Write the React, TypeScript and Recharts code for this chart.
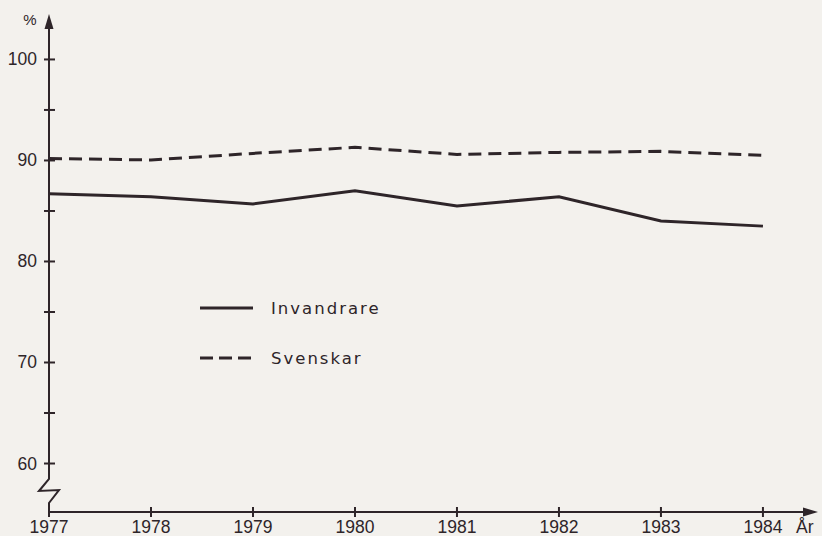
import { LineChart, Line, XAxis, YAxis, Legend, Label } from "recharts";

// years on the x axis
const years = [1977, 1978, 1979, 1980, 1981, 1982, 1983, 1984];
// share in %
const invandrare = [86.7, 86.4, 85.7, 87.0, 85.5, 86.4, 84.0, 83.5];
const svenskar = [90.2, 90.05, 90.7, 91.3, 90.6, 90.8, 90.9, 90.5];

const yTicks = [60, 65, 70, 75, 80, 85, 90, 95, 100];

const seriesNames = ["Invandrare", "Svenskar"];
const xUnit = "År";
const yUnit = "%";

const data = years.map((year, i) => ({
  year,
  invandrare: invandrare[i],
  svenskar: svenskar[i],
}));

const INK = "#2e2529";
const PAPER = "#f3f1ed";
const SANS = "'Liberation Sans', Arial, sans-serif";

function YTick(props: any) {
  const { x, y, payload } = props;
  const major = payload.value % 10 === 0;
  return (
    <g>
      <line x1={x - 5} x2={x + 6} y1={y} y2={y} stroke={INK} strokeWidth={2} />
      {major && (
        <text
          x={x - 12}
          y={y + 6}
          textAnchor="end"
          fontFamily={SANS}
          fontSize={17.5}
          fill={INK}
        >
          {payload.value}
        </text>
      )}
    </g>
  );
}

function XTick(props: any) {
  const { x, y, payload } = props;
  return (
    <g>
      <line x1={x} x2={x} y1={y - 5} y2={y + 5} stroke={INK} strokeWidth={2} />
      <text
        x={x}
        y={y + 21}
        textAnchor="middle"
        fontFamily={SANS}
        fontSize={17.5}
        fill={INK}
      >
        {payload.value}
      </text>
    </g>
  );
}

function XAxisDecor(props: any) {
  const { x, y, width } = props.viewBox;
  const end = x + width + 1;
  return (
    <g>
      <line x1={x} x2={end - 8} y1={y} y2={y} stroke={INK} strokeWidth={2} />
      <polygon
        points={`${end},${y} ${end - 15},${y - 4.5} ${end - 15},${y + 4.5}`}
        fill={INK}
      />
      <text
        x={end - 22}
        y={y + 21}
        fontFamily={SANS}
        fontSize={17.5}
        fill={INK}
      >
        {xUnit}
      </text>
    </g>
  );
}

function YAxisDecor(props: any) {
  const { x: bx, y, width, height } = props.viewBox;
  const x = bx + width;
  const top = y - 1;
  const bottom = y + height;
  const b = bottom - 33;
  return (
    <g>
      <polyline
        points={`${x},${top + 8} ${x},${b} ${x - 10},${b + 12} ${x + 10},${b + 11} ${x},${b + 24} ${x},${bottom + 1}`}
        fill="none"
        stroke={INK}
        strokeWidth={2}
      />
      <polygon
        points={`${x},${top} ${x - 4.5},${top + 15} ${x + 4.5},${top + 15}`}
        fill={INK}
      />
      <text
        x={x - 19}
        y={top + 11}
        textAnchor="middle"
        fontFamily={SANS}
        fontSize={15}
        fill={INK}
      >
        {yUnit}
      </text>
    </g>
  );
}

function LegendBox(props: any) {
  const { payload } = props;
  return (
    <svg width={200} height={90}>
      {(payload || []).map((entry: any, i: number) => {
        const cy = 16 + i * 50;
        const dash = entry.payload?.strokeDasharray;
        return (
          <g key={entry.value}>
            <line
              x1={5}
              x2={58}
              y1={cy}
              y2={cy}
              stroke={INK}
              strokeWidth={3}
              strokeDasharray={dash ? "13 6" : undefined}
            />
            <text
              x={76}
              y={cy + 6}
              fontFamily="'DejaVu Sans', sans-serif"
              fontSize={16.5}
              letterSpacing={2}
              fill={INK}
            >
              {entry.value}
            </text>
          </g>
        );
      })}
    </svg>
  );
}

export default function App() {
  return (
    <div
      style={{
        position: "absolute",
        left: 0,
        top: 0,
        width: 822,
        height: 536,
        background: PAPER,
        overflow: "hidden",
      }}
    >
      <LineChart
        width={822}
        height={536}
        data={data}
        margin={{ top: 15, right: 5, bottom: 0, left: 0 }}
      >
        <XAxis
          type="number"
          dataKey="year"
          domain={[1977, 1984.53]}
          ticks={years}
          allowDataOverflow
          height={24}
          axisLine={false}
          tickLine={false}
          tickSize={0}
          tickMargin={0}
          tick={<XTick />}
          label={<Label content={<XAxisDecor />} />}
        />
        <YAxis
          type="number"
          domain={[55.2, 104.4]}
          ticks={yTicks}
          allowDataOverflow
          width={49}
          axisLine={false}
          tickLine={false}
          tickSize={0}
          tickMargin={0}
          tick={<YTick />}
          label={<Label content={<YAxisDecor />} />}
        />
        <Legend
          layout="vertical"
          align="center"
          verticalAlign="middle"
          content={<LegendBox />}
          wrapperStyle={{ left: 195, top: 292, width: 200, height: 90 }}
        />
        <Line
          type="linear"
          dataKey="invandrare"
          name={seriesNames[0]}
          stroke={INK}
          strokeWidth={3}
          dot={false}
          isAnimationActive={false}
        />
        <Line
          type="linear"
          dataKey="svenskar"
          name={seriesNames[1]}
          stroke={INK}
          strokeWidth={3}
          strokeDasharray="13 7"
          dot={false}
          isAnimationActive={false}
        />
      </LineChart>
    </div>
  );
}
